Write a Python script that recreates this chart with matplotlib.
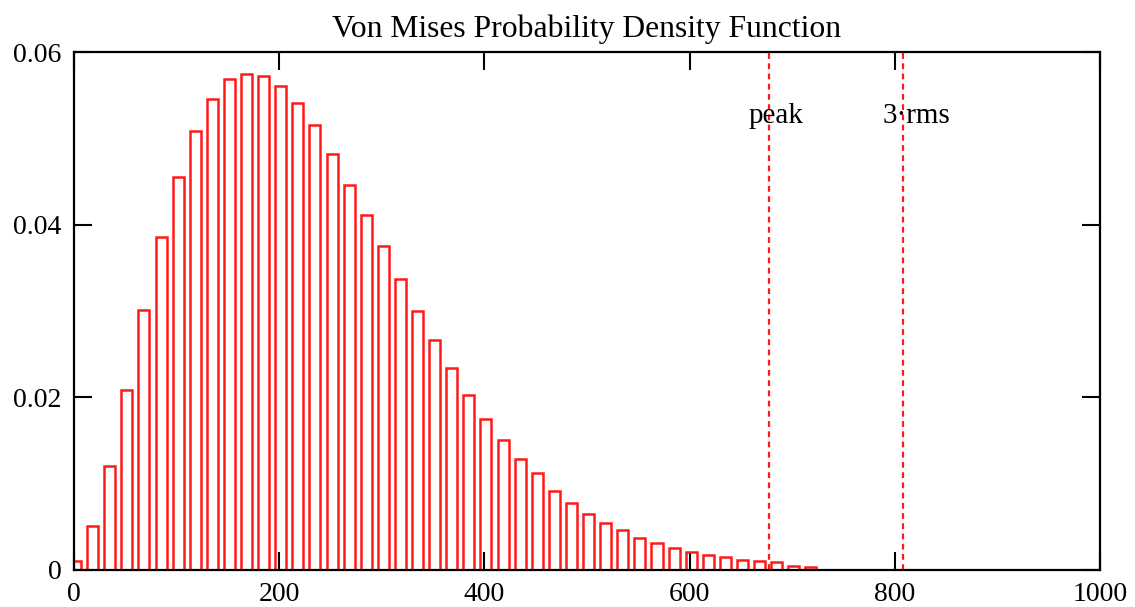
"""Von Mises probability density histogram with peak and 3-rms markers."""

import numpy as np
import matplotlib
matplotlib.use("Agg")
import matplotlib.pyplot as plt

# --- data ---
BIN_START = 1.5
BIN_WIDTH = 1000.0 / 60.0
BAR_WIDTH = 10.8

density = [
    0.0010, 0.0051, 0.0120, 0.0208, 0.0301, 0.0386, 0.0455, 0.0508,
    0.0546, 0.0569, 0.0575, 0.0572, 0.0561, 0.0541, 0.0516, 0.0482,
    0.0446, 0.0411, 0.0375, 0.0337, 0.0300, 0.0266, 0.0234, 0.0203,
    0.0175, 0.0151, 0.0129, 0.0112, 0.0092, 0.0078, 0.0065, 0.0054,
    0.0046, 0.0037, 0.0031, 0.0026, 0.0021, 0.0017, 0.0015, 0.0012,
    0.0010, 0.0009, 0.0005, 0.0004,
]

PEAK = 677.4
THREE_RMS = 808.1
marker_labels = ["peak", "3\u00b7rms"]

x_ticks = [0, 200, 400, 600, 800, 1000]
y_ticks = [0, 0.02, 0.04, 0.06]
y_tick_labels = ["0", "0.02", "0.04", "0.06"]

RED = "#ff1a1a"

plt.rcParams.update({
    "font.family": ["Liberation Serif", "DejaVu Serif"],
    "font.size": 20,
})

fig = plt.figure(figsize=(11.35, 6.07), dpi=100)
ax = fig.add_axes([0.0652, 0.061, 0.904, 0.8533])

centers = BIN_START + BIN_WIDTH * np.arange(len(density))
ax.bar(
    centers, density, width=BAR_WIDTH,
    facecolor="none", edgecolor=RED, linewidth=1.8, zorder=3,
)

for xv, label in zip([PEAK, THREE_RMS], marker_labels):
    ax.axvline(xv, color=RED, linewidth=1.6, dashes=(2.6, 2.0), zorder=3)
    ax.text(xv - 20, 0.0526, label, ha="left", va="center", fontsize=21,
            zorder=4)

ax.set_xlim(0, 1000)
ax.set_ylim(0, 0.06)
ax.set_xticks(x_ticks)
ax.set_yticks(y_ticks)
ax.set_yticklabels(y_tick_labels)

ax.tick_params(
    which="both", direction="in", length=13, width=1.5, color="black",
    top=True, right=True, labelsize=20, pad=9,
)
ax.xaxis.set_zorder(2.5)
ax.yaxis.set_zorder(2.5)
for spine in ax.spines.values():
    spine.set_linewidth(1.6)
    spine.set_color("black")
    spine.set_zorder(5)

ax.set_title("Von Mises Probability Density Function", fontsize=22.8, pad=11)

fig.savefig("out.png", dpi=100)
